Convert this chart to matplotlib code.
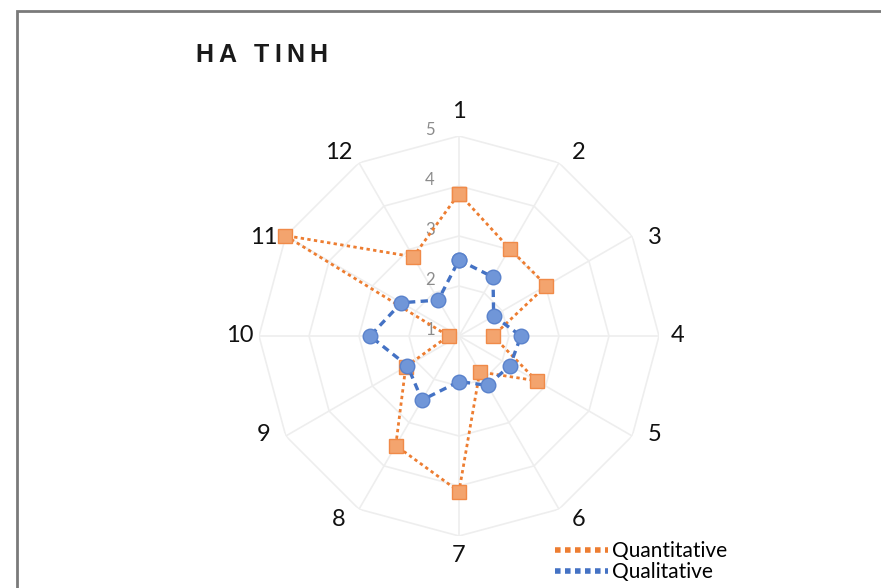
import numpy as np
import matplotlib
matplotlib.use('Agg')
import matplotlib.pyplot as plt
from matplotlib.lines import Line2D
from matplotlib.patches import Rectangle

# data
categories = ['1', '2', '3', '4', '5', '6', '7', '8', '9', '10', '11', '12']
quantitative = [3.85, 3.02, 3.02, 1.68, 2.79, 1.83, 4.11, 3.53, 2.23, 1.21, 5.02, 2.83]
qualitative = [2.52, 2.36, 1.80, 2.24, 2.18, 2.14, 1.91, 2.48, 2.19, 2.78, 2.33, 1.83]
ring_values = [1, 2, 3, 4, 5]
title = 'HA TINH'

orange = '#ED7D31'
blue = '#4472C4'
grid_col = '#EEEEEE'

plt.rcParams['font.family'] = ['Lato', 'DejaVu Sans']

fig = plt.figure(figsize=(8.81, 5.88), dpi=100)
fig.patch.set_facecolor('white')

# outer frame (only top and left edges visible in the crop)
fig.patches.append(Rectangle((17 / 881, -0.05), 1.0, 1 - 11 / 588 + 0.05,
                             transform=fig.transFigure, fill=False,
                             edgecolor='#7A7A7A', linewidth=2, zorder=0))

cx, cy, R = 459, 336, 200
ax = fig.add_axes([(cx - R) / 881, (588 - cy - R) / 588, 2 * R / 881, 2 * R / 588],
                  projection='polar')
ax.set_theta_zero_location('N')
ax.set_theta_direction(-1)
ax.set_ylim(1, 5)
ax.grid(False)
ax.spines['polar'].set_visible(False)
ax.set_xticks([])
ax.set_yticks([])
ax.patch.set_alpha(0)

n = len(categories)
theta = np.arange(n) * 2 * np.pi / n
closed = np.append(theta, theta[0])

# polygon gridlines and spokes
for v in ring_values[1:]:
    ax.plot(closed, [v] * (n + 1), color=grid_col, lw=1.2, zorder=1)
for t in theta:
    ax.plot([t, t], [1, 5], color=grid_col, lw=1.2, zorder=1)

# radial tick labels
for v in ring_values:
    ax.annotate(str(v), xy=(0, v), xytext=(-29, 6), textcoords='offset pixels',
                ha='center', va='center', fontsize=12, color='#8C8C8C',
                annotation_clip=False, zorder=2)

# category labels (excel pushes the diagonal ones a bit toward the horizontal)
for t, lab in zip(theta, categories):
    deg = np.degrees(t)
    shift = 0.0
    if deg % 90:
        shift = 3.2 if (deg % 180) < 90 else -3.2
    r = 5.5 if deg == 0.0 else 5.38
    ax.text(t + np.radians(shift), r, lab, ha='center', va='center',
            fontsize=17, color='#111111', clip_on=False)

ax.plot(closed, quantitative + quantitative[:1], color=orange, lw=2,
        linestyle=(0, (1.2, 1.2)), marker='s', markersize=10,
        markerfacecolor='#F3A46E', markeredgecolor='#F08A48', zorder=3,
        clip_on=False)
ax.plot(closed, qualitative + qualitative[:1], color=blue, lw=2.4,
        linestyle=(0, (2.2, 1.6)), marker='o', markersize=10.5,
        markerfacecolor='#7096D8', markeredgecolor='#5A82CC', zorder=4,
        clip_on=False)

# letter-spaced title
renderer = fig.canvas.get_renderer()
x = 195
for ch in title:
    t = fig.text(x / 881, 1 - 55 / 588, ch, ha='left', va='center',
                 fontsize=18, fontweight='bold', color='#1A1A1A',
                 family=['Liberation Sans', 'DejaVu Sans'])
    w = t.get_window_extent(renderer).width if ch != ' ' else 8
    x += w + 5

handles = [
    Line2D([], [], color=orange, lw=4, linestyle=(0, (1, 0.8))),
    Line2D([], [], color=blue, lw=4, linestyle=(0, (1, 0.8))),
]
fig.legend(handles, ['Quantitative', 'Qualitative'], loc='upper left',
           bbox_to_anchor=(545 / 881, 1 - 531 / 588), frameon=False,
           fontsize=15, handlelength=2.5, handletextpad=0.2, labelspacing=0.05,
           borderpad=0)

fig.savefig('out.png', dpi=100)
